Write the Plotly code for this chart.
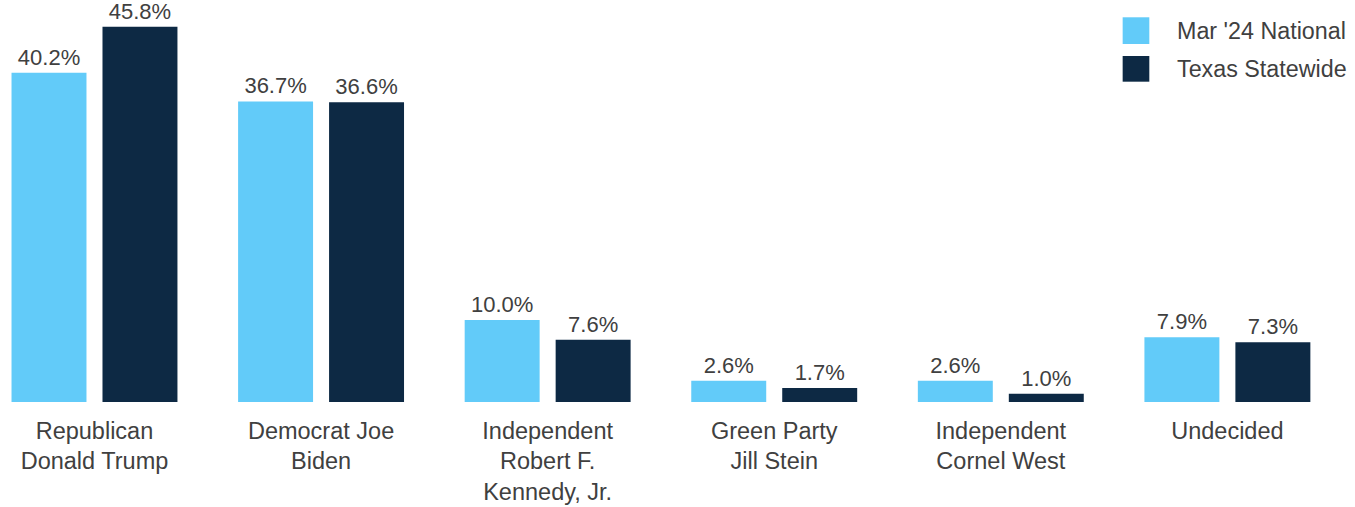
import plotly.graph_objects as go

CATEGORIES = [
    "Republican<br>Donald Trump",
    "Democrat Joe<br>Biden",
    "Independent<br>Robert F.<br>Kennedy, Jr.",
    "Green Party<br>Jill Stein",
    "Independent<br>Cornel West",
    "Undecided",
]
NATIONAL = [40.2, 36.7, 10.0, 2.6, 2.6, 7.9]
TEXAS = [45.8, 36.6, 7.6, 1.7, 1.0, 7.3]
SERIES_NAMES = ["Mar '24 National", "Texas Statewide"]

LIGHT = "#62CBF9"
DARK = "#0D2944"
TEXT = "#404040"
FONT = "Arial, Liberation Sans, sans-serif"

fig = go.Figure()
for name, vals, color in zip(SERIES_NAMES, [NATIONAL, TEXAS], [LIGHT, DARK]):
    fig.add_trace(go.Bar(
        x=CATEGORIES, y=vals, name=name,
        marker=dict(color=color, line=dict(width=0)),
        text=[f"{v:.1f}%" for v in vals],
        textposition="outside",
        textfont=dict(size=22, color=TEXT, family=FONT),
        cliponaxis=False,
        showlegend=False,
    ))

# legend drawn by hand (large square swatches)
legend_rows = [(0.8905, 0.957, 0.9236), (0.7968, 0.8607, 0.8284)]
for (y0, y1, ty), name, color in zip(legend_rows, SERIES_NAMES, [LIGHT, DARK]):
    fig.add_shape(type="rect", xref="paper", yref="paper",
                  x0=0.8378, x1=0.8577, y0=y0, y1=y1,
                  fillcolor=color, line=dict(width=0))
    fig.add_annotation(xref="paper", yref="paper", x=0.8776, y=ty,
                       text=name, showarrow=False, xanchor="left", yanchor="middle",
                       borderpad=0,
                       font=dict(size=23.3, color=TEXT, family=FONT))

fig.update_layout(
    width=1355, height=507,
    margin=dict(l=0, r=15, t=0, b=105, autoexpand=False),
    barmode="group",
    bargap=0.197,
    bargroupgap=0.176,
    paper_bgcolor="white",
    plot_bgcolor="white",
    font=dict(family=FONT, color=TEXT),
    xaxis=dict(
        range=[-0.417, 5.497],
        showline=False, showgrid=False, ticks="",
        ticklabelstandoff=12,
        tickfont=dict(size=23.5, color=TEXT, family=FONT),
    ),
    yaxis=dict(range=[0, 49.08], visible=False),
)

fig.write_html(
    "out.html",
    config={"displayModeBar": False},
    post_script="document.body.style.margin='0';document.body.style.overflow='hidden';",
)
